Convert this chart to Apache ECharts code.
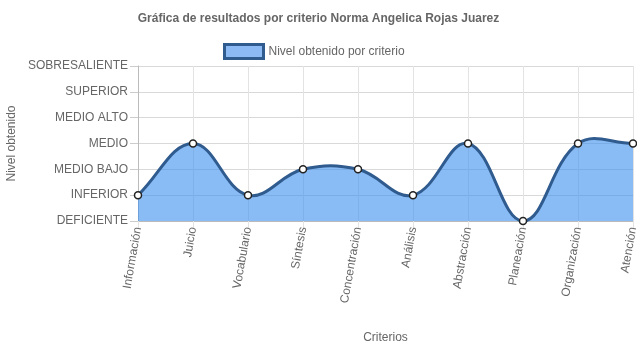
<!DOCTYPE html>
<html>
<head>
<meta charset="utf-8">
<script src="https://cdn.jsdelivr.net/npm/echarts@6/dist/echarts.min.js"></script>
<style>html,body{margin:0;padding:0;background:#fff}#c{width:637px;height:348px}</style>
</head>
<body>
<div id="c"></div>
<script>
var categories = ['Información','Juicio','Vocabulario','Síntesis','Concentración','Análisis','Abstracción','Planeación','Organización','Atención'];
var levels = ['DEFICIENTE','INFERIOR','MEDIO BAJO','MEDIO','MEDIO ALTO','SUPERIOR','SOBRESALIENTE'];
var values = [1,3,1,2,2,1,3,0,3,3];

var font = 'Liberation Sans, Arial, Helvetica, sans-serif';
var lineColor = '#2F5B8F';
var fillColor = 'rgba(58,142,238,0.6)';
var tension = 0.4;

function renderCurve(params, api) {
  if (params.dataIndex !== 0) return null;
  var cs = params.coordSys;
  var n = values.length;
  var pts = [];
  for (var i = 0; i < n; i++) pts.push(api.coord([i, values[i]]));
  var base = api.coord([0, 0])[1];
  var cpPrev = [], cpNext = [];
  function clamp(p) {
    return [Math.max(cs.x, Math.min(cs.x + cs.width, p[0])), Math.max(cs.y, Math.min(cs.y + cs.height, p[1]))];
  }
  for (var i = 0; i < n; i++) {
    var prev = pts[i - 1] || pts[i], cur = pts[i], next = pts[i + 1] || pts[i];
    var d01 = Math.hypot(cur[0] - prev[0], cur[1] - prev[1]);
    var d12 = Math.hypot(next[0] - cur[0], next[1] - cur[1]);
    var s01 = d01 / (d01 + d12), s12 = d12 / (d01 + d12);
    if (isNaN(s01)) s01 = 0; if (isNaN(s12)) s12 = 0;
    var fa = tension * s01, fb = tension * s12;
    cpPrev.push(clamp([cur[0] - fa * (next[0] - prev[0]), cur[1] - fa * (next[1] - prev[1])]));
    cpNext.push(clamp([cur[0] + fb * (next[0] - prev[0]), cur[1] + fb * (next[1] - prev[1])]));
  }
  var d = 'M' + pts[0][0] + ' ' + pts[0][1];
  for (var i = 0; i < n - 1; i++) {
    d += ' C' + cpNext[i][0] + ' ' + cpNext[i][1] + ' ' + cpPrev[i + 1][0] + ' ' + cpPrev[i + 1][1] + ' ' + pts[i + 1][0] + ' ' + pts[i + 1][1];
  }
  var area = d + ' L' + pts[n - 1][0] + ' ' + base + ' L' + pts[0][0] + ' ' + base + ' Z';
  return {
    type: 'group',
    children: [
      {type: 'path', shape: {pathData: area}, style: {fill: fillColor, stroke: null}},
      {type: 'path', shape: {pathData: d}, style: {fill: null, stroke: lineColor, lineWidth: 3}}
    ]
  };
}

var chart = echarts.init(document.getElementById('c'), null, {renderer:'canvas'});
chart.setOption({
  animation:false,
  textStyle:{fontFamily:font},
  title:{text:'Gráfica de resultados por criterio Norma Angelica Rojas Juarez', left:'center', top:8,
    textStyle:{fontSize:12, fontWeight:'bold', color:'#666', fontFamily:font}},
  legend:{top:43, left:223, padding:0, icon:'rect', itemWidth:39, itemHeight:14, data:['Nivel obtenido por criterio'],
    textStyle:{fontSize:12,color:'#666',fontFamily:font},
    itemStyle:{color:'#8BBAF5', borderColor:lineColor, borderWidth:3}},
  grid:{left:138, right:4, top:66, bottom:127, outerBoundsMode:'none', containLabel:false},
  xAxis:{type:'category', data:categories, boundaryGap:false,
    name:'Criterios', nameLocation:'middle', nameGap:111, nameMoveOverlap:false,
    nameTextStyle:{fontSize:12,color:'#666',fontFamily:font},
    axisLine:{lineStyle:{color:'#bbb'}},
    axisTick:{length:8, lineStyle:{color:'#e3e3e3'}},
    axisLabel:{rotate:80, margin:6, fontSize:12, color:'#666', fontFamily:font},
    splitLine:{show:true, lineStyle:{color:'#e3e3e3'}}},
  yAxis:{type:'value', min:0, max:6, interval:1,
    name:'Nivel obtenido', nameLocation:'middle', nameGap:120, nameMoveOverlap:false,
    nameTextStyle:{fontSize:12,color:'#666',fontFamily:font},
    axisLine:{show:true, lineStyle:{color:'#bbb'}},
    axisTick:{show:true, length:8, lineStyle:{color:'#ccc'}},
    axisLabel:{margin:10, fontSize:12, color:'#666', fontFamily:font, formatter:function(v){return levels[v];}},
    splitLine:{show:true, lineStyle:{color:'#d9d9d9'}}},
  series:[
    {name:'curve', type:'custom', renderItem:renderCurve, clip:false,
     data:values.map(function(v,i){return [i,v];}), encode:{x:0,y:1}, z:2, silent:true},
    {name:'Nivel obtenido por criterio', type:'line', data:values,
     symbol:'circle', symbolSize:7, showSymbol:true, z:3,
     lineStyle:{width:0, opacity:0},
     itemStyle:{color:'#fff', borderColor:'#222', borderWidth:1.5}}
  ]
});
</script>
</body>
</html>
